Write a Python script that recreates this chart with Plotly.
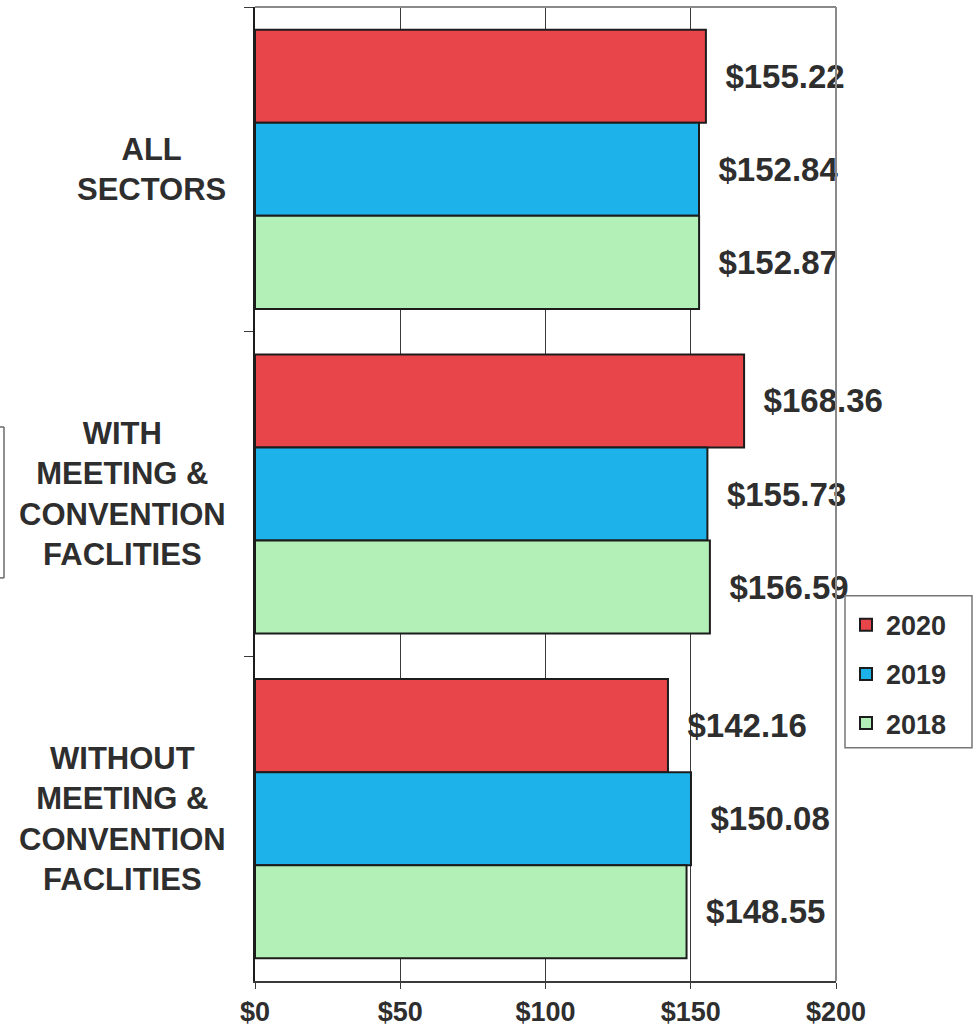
import plotly.graph_objects as go

categories = ["ALL<br>SECTORS",
              "WITH<br>MEETING &<br>CONVENTION<br>FACLITIES",
              "WITHOUT<br>MEETING &<br>CONVENTION<br>FACLITIES"]
years = ["2020", "2019", "2018"]
values_2020 = [155.22, 168.36, 142.16]
values_2019 = [152.84, 155.73, 150.08]
values_2018 = [152.87, 156.59, 148.55]
tick_vals = [0, 50, 100, 150, 200]
tick_text = ["$0", "$50", "$100", "$150", "$200"]

series = [values_2020, values_2019, values_2018]
colors = ["#E8454A", "#1DB3EA", "#B3F0B7"]

W, H = 979, 1034
L, R, T, B = 255, 979 - 836, 7, 1034 - 988
pw = W - L - R
ph = H - T - B

FONT = "Liberation Sans, Arial, sans-serif"
TXT = "#2e2e2e"

fig = go.Figure()
for name, vals, col in zip(years, series, colors):
    fig.add_trace(go.Bar(
        y=categories, x=vals, name=name, orientation="h",
        marker=dict(color=col, line=dict(color="#1c1c1c", width=2)),
        text=vals,
        texttemplate="\u2002$%{x:.2f}",
        textposition="outside",
        constraintext="none",
        cliponaxis=False,
        textfont=dict(family=FONT, size=33, color=TXT, weight="bold"),
        legendgroup=name,
    ))

annotations = []
for c in categories:
    annotations.append(dict(
        x=(228 - L) / pw, xref="paper", y=c, yref="y",
        text=c, showarrow=False, xanchor="right", yanchor="middle",
        align="center",
        font=dict(family=FONT, size=31, color=TXT, weight="bold"),
    ))

def px_x(p):
    return (p - L) / pw

def px_y(p):
    return (H - B - p) / ph

shapes = [
    dict(type="line", xref="paper", yref="paper", x0=0, x1=1, y0=1, y1=1,
         line=dict(color="#8a8a8a", width=2)),
    dict(type="line", xref="paper", yref="paper", x0=1, x1=1, y0=0, y1=1,
         line=dict(color="#8a8a8a", width=2)),
    dict(type="line", xref="paper", yref="paper", x0=px_x(0), x1=px_x(4),
         y0=px_y(430), y1=px_y(430), line=dict(color="#6a6a6a", width=1.5)),
    dict(type="line", xref="paper", yref="paper", x0=px_x(4), x1=px_x(4),
         y0=px_y(430), y1=px_y(582), line=dict(color="#6a6a6a", width=1.5)),
    dict(type="line", xref="paper", yref="paper", x0=px_x(0), x1=px_x(4),
         y0=px_y(582), y1=px_y(582), line=dict(color="#6a6a6a", width=1.5)),
    # legend frame
    dict(type="rect", xref="paper", yref="paper", layer="above",
         x0=px_x(845), x1=px_x(972), y0=px_y(600), y1=px_y(753),
         line=dict(color="#777777", width=1.5), fillcolor="rgba(0,0,0,0)"),
]

fig.update_layout(
    width=W, height=H,
    margin=dict(l=L, r=R, t=T, b=B),
    paper_bgcolor="white", plot_bgcolor="white",
    barmode="group", bargap=0.14, bargroupgap=0,
    showlegend=True,
    legend=dict(
        x=(846 - L) / pw, y=px_y(605), xanchor="left", yanchor="top",
        borderwidth=0, bgcolor="rgba(0,0,0,0)",
        font=dict(family=FONT, size=27, color=TXT, weight="bold"),
        traceorder="grouped", tracegroupgap=11,
    ),
    xaxis=dict(
        range=[0, 200], tickvals=tick_vals, ticktext=tick_text,
        showgrid=True, gridcolor="#3a3a3a", gridwidth=1,
        showline=True, linecolor="#3a3a3a", linewidth=2,
        ticks="outside", ticklen=6, tickcolor="#3a3a3a",
        zeroline=False,
        tickfont=dict(family=FONT, size=27, color=TXT, weight="bold"),
    ),
    yaxis=dict(
        autorange="reversed", type="category",
        showticklabels=False, showgrid=False,
        showline=True, linecolor="#1c1c1c", linewidth=2,
        ticks="outside", tickson="boundaries", ticklen=9, tickcolor="#3a3a3a",
    ),
    annotations=annotations,
    shapes=shapes,
)

fig.write_html("out.html",
               config={"displayModeBar": False},
               post_script="document.body.style.margin='0';document.body.style.padding='0';")
